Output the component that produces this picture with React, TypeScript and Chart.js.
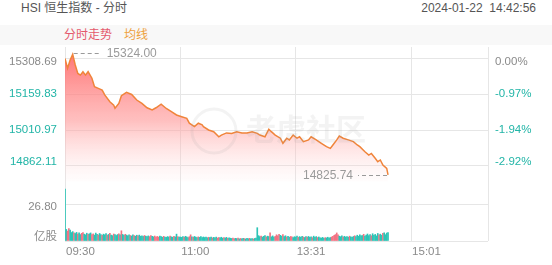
import React, { useEffect, useRef } from 'react';
import { Chart, registerables } from 'chart.js';

Chart.register(...registerables);

// ---- data ----
const prevClose = 15308.69;
const priceTicks = [15308.69, 15159.83, 15010.97, 14862.11];
const xTickMinutes = [0, 90, 180, 270, 330];
const xTickLabels = ['09:30', '11:00', '13:31', '15:01', ''];
const volumeTicks = [0, 26.8];

const priceMinute = [
  0, 2, 4, 6, 8, 10, 12, 14, 16, 18,
  21, 23, 26, 29, 31, 35, 38, 39, 42, 44,
  48, 52, 56, 60, 64, 68, 71, 75, 79, 83,
  87, 91, 95, 97, 101, 104, 107, 108, 112, 116,
  120, 122, 126, 130, 134, 138, 142, 146, 150, 152,
  156, 159, 161, 164, 168, 170, 173, 175, 178, 181,
  183, 186, 190, 192, 196, 200, 204, 207, 209, 212,
  214, 217, 221, 225, 228, 230, 234, 237, 239, 242,
  244, 246, 248, 251, 252,
];
const priceValue = [
  15307, 15266, 15300, 15324, 15280, 15245, 15238, 15252, 15238, 15252,
  15225, 15190, 15183, 15176, 15156, 15128, 15114, 15101, 15121, 15153,
  15167, 15158, 15135, 15121, 15103, 15094, 15103, 15118, 15100, 15087,
  15073, 15066, 15059, 15039, 15025, 15039, 15032, 15025, 15011, 15004,
  14983, 14990, 14999, 14997, 15004, 14999, 14999, 15004, 14997, 14990,
  14983, 15014, 15004, 14990, 14977, 14956, 14977, 14970, 14990, 14977,
  14983, 14963, 14970, 14983, 14970, 14956, 14942, 14935, 14949, 14970,
  14986, 14977, 14970, 14963, 14949, 14942, 14921, 14907, 14914, 14894,
  14880, 14887, 14866, 14852, 14825.74,
];

const volumeValue = [
  38.7, 8.6, 7.4, 9.2, 8.1, 6.3, 7.0, 6.1, 5.6, 6.4,
  5.2, 6.0, 4.8, 5.7, 6.2, 5.1, 4.6, 5.8, 4.9, 5.4,
  6.0, 4.7, 5.3, 4.4, 5.9, 5.0, 4.5, 5.6, 4.8, 4.2,
  5.1, 4.6, 5.5, 4.3, 4.9, 5.8, 4.4, 4.0, 5.2, 4.7,
  4.1, 4.8, 5.3, 4.5, 7.6, 4.9, 4.2, 5.0, 4.4, 3.9,
  4.6, 4.1, 3.7, 4.5, 4.0, 3.6, 4.3, 3.8, 4.4, 3.5,
  3.9, 3.4, 4.1, 3.6, 3.2, 3.8, 3.3, 4.0, 3.5, 3.1,
  3.7, 3.0, 3.4, 2.9, 3.6, 3.2, 2.8, 3.5, 3.0, 2.7,
  3.3, 2.9, 3.6, 3.1, 2.8, 3.4, 3.0, 5.1, 3.2, 2.9,
  3.0, 2.7, 3.3, 2.8, 3.5, 3.0, 2.6, 3.2, 4.6, 3.1,
  2.8, 3.4, 2.9, 2.6, 3.1, 2.7, 3.3, 2.5, 3.0, 2.6,
  2.9, 2.4, 2.8, 2.5, 3.0, 2.3, 2.7, 2.4, 2.9, 2.2,
  2.6, 2.3, 2.8, 2.1, 2.5, 2.2, 2.7, 2.0, 2.4, 2.1,
  1.9, 2.2, 1.7, 2.0, 1.8, 2.1, 1.6, 1.9, 1.7, 2.0,
  1.8, 1.5, 1.9, 1.7, 2.0, 1.6, 1.8, 1.5, 1.9, 2.1,
  9.9, 4.0, 3.2, 3.7, 2.9, 3.5, 4.1, 3.0, 3.6, 3.3,
  6.0, 3.1, 3.8, 2.9, 3.4, 4.6, 3.9, 5.0, 4.2, 3.6,
  4.8, 3.3, 3.9, 3.0, 3.5, 2.8, 3.4, 3.1, 2.6, 3.2,
  2.9, 3.6, 2.7, 3.3, 2.8, 3.5, 3.0, 2.6, 3.2, 2.9,
  3.4, 2.7, 3.1, 2.5, 3.6, 2.8, 3.3, 2.6, 3.0, 2.4,
  2.2, 2.7, 2.0, 2.5, 2.3, 2.8, 2.1, 2.6, 3.0, 3.5,
  4.2, 4.8, 6.0, 4.5, 3.6, 3.2, 3.8, 3.0, 3.5, 2.9,
  3.3, 2.8, 3.6, 3.1, 2.7, 3.4, 3.9, 3.2, 4.3, 3.5,
  4.6, 3.8, 4.1, 5.0, 3.7, 4.4, 5.2, 4.0, 4.7, 3.9,
  5.4, 4.2, 4.9, 3.8, 5.6, 4.5, 5.1, 4.3, 5.8, 6.1,
  4.7, 5.9, 6.2,
];
const volumeSide = (
  'ggrrgggrgg' + 'rggrrgggrg' + 'grrgggrggr' + 'gggrgrggrg' + 'ggrgrggrgg' +
  'grggrggrgg' + 'ggrgggrrgg' + 'rrrrgggrgg' + 'ggrggrggrg' + 'gggrgggrrg' +
  'rgggrggggg' + 'ggrggrgggr' + 'rgggrggrgg' + 'grrggrgrgg' + 'rgggrggrgg' +
  'gggrgggrgg' + 'rgggrrrrgg' + 'rggrggrrgg' + 'ggrgggrggr' + 'gggrgggrgg' +
  'gggrggggrr' + 'rrrrgggrgg' + 'ggrgggrggg' + 'gggrgggggr' + 'gggggrggrg' +
  'ggg'
).split('');

// ---- style ----
const FONT = '"Liberation Sans", Arial, "Noto Sans CJK SC", sans-serif';
const TEAL = '#22b5a7';
const GREY = '#8a8a8a';
const GRID = '#e6e6e6';
const LINE = '#f0843a';
const VOL_UP = '#f27384';
const VOL_DOWN = '#2cc4b6';

// axis ranges
const priceAxisMax = 15354.18;
const priceAxisMin = 14551.98;
const priceFillBase = 14798;
const volumeAxisMax = 144.4;

function App() {
  const ref = useRef<HTMLCanvasElement | null>(null);

  useEffect(() => {
    const canvas = ref.current;
    if (!canvas) return;

    let hiIdx = 0;
    let loIdx = 0;
    priceValue.forEach((v, i) => {
      if (v > priceValue[hiIdx]) hiIdx = i;
      if (v < priceValue[loIdx]) loIdx = i;
    });

    const labelPlugin = {
      id: 'labels',
      afterDatasetsDraw(chart: any) {
        const { ctx, chartArea, scales } = chart;
        const y = scales.y;
        const yv = scales.yv;
        const x = scales.x;
        ctx.save();
        // watermark
        ctx.globalAlpha = 0.12;
        ctx.strokeStyle = '#a0a0a0';
        ctx.lineWidth = 3;
        ctx.beginPath();
        ctx.arc(214, 131, 22, 0, Math.PI * 2);
        ctx.stroke();
        ctx.fillStyle = '#a0a0a0';
        ctx.font = 'bold 30px "Noto Sans CJK SC", sans-serif';
        ctx.textAlign = 'left';
        ctx.textBaseline = 'middle';
        ctx.fillText('老虎社区', 246, 129);
        ctx.globalAlpha = 1;

        ctx.font = `11.5px ${FONT}`;
        ctx.textBaseline = 'middle';
        // left price labels + right percent labels
        priceTicks.forEach((v, i) => {
          let py = y.getPixelForValue(v);
          if (i === 0) py += 4;
          if (i === priceTicks.length - 1) py -= 4.5;
          ctx.fillStyle = i === 0 ? GREY : TEAL;
          ctx.textAlign = 'right';
          ctx.fillText(v.toFixed(2), chartArea.left - 8, py);
          const pct = ((v - prevClose) / prevClose) * 100;
          ctx.textAlign = 'left';
          ctx.fillText(pct.toFixed(2) + '%', chartArea.right + 7, py);
        });
        // x labels
        ctx.fillStyle = GREY;
        ctx.textAlign = 'left';
        xTickMinutes.forEach((m, i) => {
          ctx.fillText(xTickLabels[i], x.getPixelForValue(m) + 1, chartArea.bottom + 11);
        });
        // volume labels
        ctx.textAlign = 'right';
        ctx.fillText(volumeTicks[1].toFixed(2), chartArea.left - 8, yv.getPixelForValue(volumeTicks[1]) + 2);
        ctx.font = `11.5px "Noto Sans CJK SC", sans-serif`;
        ctx.fillText('亿股', chartArea.left - 8, yv.getPixelForValue(0) - 5);

        // high / low markers
        ctx.font = `12px ${FONT}`;
        ctx.strokeStyle = '#9a9a9a';
        ctx.fillStyle = '#9a9a9a';
        ctx.lineWidth = 1;
        ctx.setLineDash([4, 3]);
        const hx = x.getPixelForValue(priceMinute[hiIdx]);
        const hy = Math.round(y.getPixelForValue(priceValue[hiIdx])) - 0.5;
        ctx.beginPath();
        ctx.moveTo(hx + 1, hy);
        ctx.lineTo(hx + 28, hy);
        ctx.stroke();
        ctx.textAlign = 'left';
        ctx.fillText(priceValue[hiIdx].toFixed(2), hx + 34, hy);
        const lx = x.getPixelForValue(priceMinute[loIdx]);
        const ly = Math.round(y.getPixelForValue(priceValue[loIdx])) + 0.5;
        ctx.beginPath();
        ctx.moveTo(lx - 1, ly);
        ctx.lineTo(lx - 30, ly);
        ctx.stroke();
        ctx.setLineDash([]);
        ctx.textAlign = 'right';
        ctx.fillText(priceValue[loIdx].toFixed(2), lx - 35, ly);
        ctx.restore();
      },
    };

    const chart = new Chart(canvas, {
      data: {
        datasets: [
          {
            type: 'line',
            data: priceMinute.map((m, i) => ({ x: m, y: priceValue[i] })),
            xAxisID: 'x',
            yAxisID: 'y',
            borderColor: LINE,
            borderWidth: 1.5,
            pointRadius: 0,
            tension: 0,
            fill: { value: priceFillBase },
            backgroundColor: (c: any) => {
              const ch = c.chart;
              const area = ch.chartArea;
              if (!area) return 'rgba(255,120,120,0.5)';
              const g = ch.ctx.createLinearGradient(0, area.top, 0, ch.scales.y.getPixelForValue(priceFillBase));
              g.addColorStop(0, 'rgba(255,96,96,0.92)');
              g.addColorStop(0.55, 'rgba(255,150,150,0.6)');
              g.addColorStop(1, 'rgba(255,220,220,0.08)');
              return g;
            },
          } as any,
          {
            type: 'bar',
            data: volumeValue.map((v, i) => ({ x: i, y: v })),
            xAxisID: 'x',
            yAxisID: 'yv',
            backgroundColor: volumeSide.map((s) => (s === 'r' ? VOL_UP : VOL_DOWN)),
            barThickness: 1,
          } as any,
        ],
      },
      options: {
        responsive: false,
        animation: false,
        devicePixelRatio: 1,
        layout: { padding: { top: 47, right: 64, left: 0, bottom: 0 } },
        plugins: { legend: { display: false }, tooltip: { enabled: false } },
        scales: {
          x: {
            type: 'linear',
            position: 'bottom',
            min: 0,
            max: xTickMinutes[xTickMinutes.length - 1],
            offset: false,
            grid: { color: GRID, drawTicks: false, offset: false },
            border: { display: false },
            ticks: { display: false },
            afterBuildTicks: (s: any) => {
              s.ticks = xTickMinutes.map((v) => ({ value: v }));
            },
            afterFit: (s: any) => {
              s.height = 24;
              s.paddingLeft = 0;
              s.paddingRight = 0;
            },
          },
          y: {
            type: 'linear',
            position: 'left',
            min: priceAxisMin,
            max: priceAxisMax,
            grid: { color: GRID, drawTicks: false },
            border: { display: false },
            ticks: { display: false },
            afterBuildTicks: (s: any) => {
              s.ticks = priceTicks.map((v) => ({ value: v }));
            },
            afterFit: (s: any) => {
              s.width = 65;
            },
          },
          yv: {
            type: 'linear',
            position: 'left',
            min: 0,
            max: volumeAxisMax,
            grid: { color: GRID, drawTicks: false },
            border: { display: false },
            ticks: { display: false },
            afterBuildTicks: (s: any) => {
              s.ticks = volumeTicks.map((v) => ({ value: v }));
            },
            afterFit: (s: any) => {
              s.width = 0;
            },
          },
        },
      } as any,
      plugins: [labelPlugin],
    });
    return () => chart.destroy();
  }, []);

  const text: React.CSSProperties = {
    position: 'absolute',
    fontFamily: FONT,
    fontSize: 12,
    whiteSpace: 'nowrap',
  };

  return (
    <div style={{ position: 'fixed', left: 0, top: 0, width: 552, height: 265, background: '#fff', overflow: 'hidden' }}>
      <div style={{ ...text, left: 21, top: 0, lineHeight: '16px', color: '#555' }}>HSI 恒生指数 - 分时</div>
      <div style={{ ...text, right: 16, top: 0, lineHeight: '16px', color: '#555' }}>2024-01-22&nbsp;&nbsp;14:42:56</div>
      <div style={{ position: 'absolute', left: 0, top: 25, width: 552, height: 20, background: '#f8f8f8' }} />
      <div style={{ ...text, left: 64, top: 25, lineHeight: '20px', color: '#e4596c' }}>分时走势</div>
      <div style={{ ...text, left: 124, top: 25, lineHeight: '20px', color: '#eea03c' }}>均线</div>
      <canvas ref={ref} width={552} height={265} style={{ position: 'absolute', left: 0, top: 0, display: 'block' }} />
    </div>
  );
}

export default App;
